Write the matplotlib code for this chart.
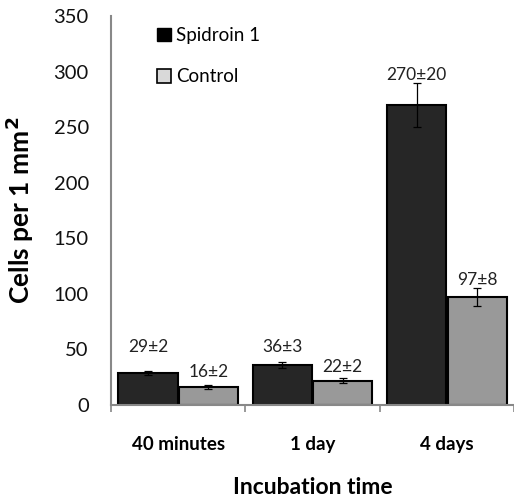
import matplotlib
matplotlib.use("Agg")
import matplotlib.pyplot as plt
from matplotlib.patches import Patch
import numpy as np

categories = ["40 minutes", "1 day", "4 days"]
spidroin = [29, 36, 270]
spidroin_err = [2, 3, 20]
control = [16, 22, 97]
control_err = [2, 2, 8]
spidroin_labels = ["29±2", "36±3", "270±20"]
control_labels = ["16±2", "22±2", "97±8"]
yticks = [0, 50, 100, 150, 200, 250, 300, 350]

plt.rcParams['font.family'] = ['Lato', 'DejaVu Sans']

fig = plt.figure(figsize=(5.14, 5.0), dpi=100)
ax = fig.add_axes([0.216, 0.19, 0.784, 0.778])

x = np.arange(len(categories))
w = 0.44
off = 0.225
dark = "#262626"
light = "#999999"
ax.bar(x - off, spidroin, w, color=dark, edgecolor="black", linewidth=1.5,
       yerr=spidroin_err, error_kw=dict(ecolor="black", elinewidth=0.9, capsize=3, capthick=0.9))
ax.bar(x + off, control, w, color=light, edgecolor="black", linewidth=1.5,
       yerr=control_err, error_kw=dict(ecolor="black", elinewidth=0.9, capsize=3, capthick=0.9))

# label pads (data units above bar top)
sp_pad = [18.7, 11.7, 22.5]
ct_pad = [9, 7.7, 11]
for i in range(len(categories)):
    ax.text(x[i] - off, spidroin[i] + sp_pad[i], spidroin_labels[i], ha="center", va="baseline",
            fontsize=12.5, color="#222222")
    ax.text(x[i] + off, control[i] + ct_pad[i], control_labels[i], ha="center", va="baseline",
            fontsize=12.5, color="#222222")

ax.set_xlim(-0.5, 2.5)
ax.set_ylim(0, 350)
ax.set_yticks(yticks)
ax.set_yticklabels([str(t) for t in yticks], fontsize=14.5, color="#111111")
ax.tick_params(axis="y", length=0, pad=16)
ax.set_xticks(x)
ax.set_xticklabels(categories, fontsize=13.5, fontweight="bold")
ax.tick_params(axis="x", which="major", length=0, pad=22)
ax.set_xticks([-0.5, 0.5, 1.5, 2.5], minor=True)
ax.tick_params(axis="x", which="minor", length=5, width=1.2, color="#888888", direction="out")

for s in ["top", "right"]:
    ax.spines[s].set_visible(False)
for s in ["left", "bottom"]:
    ax.spines[s].set_color("#888888")
    ax.spines[s].set_linewidth(1.5)

ax.set_ylabel("Cells per 1 mm$^\\mathbf{2}$", fontsize=19, fontweight="bold", va="center")
ax.yaxis.set_label_coords(-0.226, 0.5)
ax.set_xlabel("Incubation time", fontsize=16.5, fontweight="bold", va="center")
ax.xaxis.set_label_coords(0.5, -0.211)

handles = [Patch(facecolor="black", edgecolor="black", label="Spidroin 1"),
           Patch(facecolor="#d9d9d9", edgecolor="black", linewidth=1.2, label="Control")]
ax.legend(handles=handles, loc="upper left", bbox_to_anchor=(0.073, 1.015), frameon=False,
          fontsize=13.5, handlelength=0.75, handleheight=0.75, handletextpad=0.25, labelspacing=1.3)

fig.savefig("out.png", dpi=100)
